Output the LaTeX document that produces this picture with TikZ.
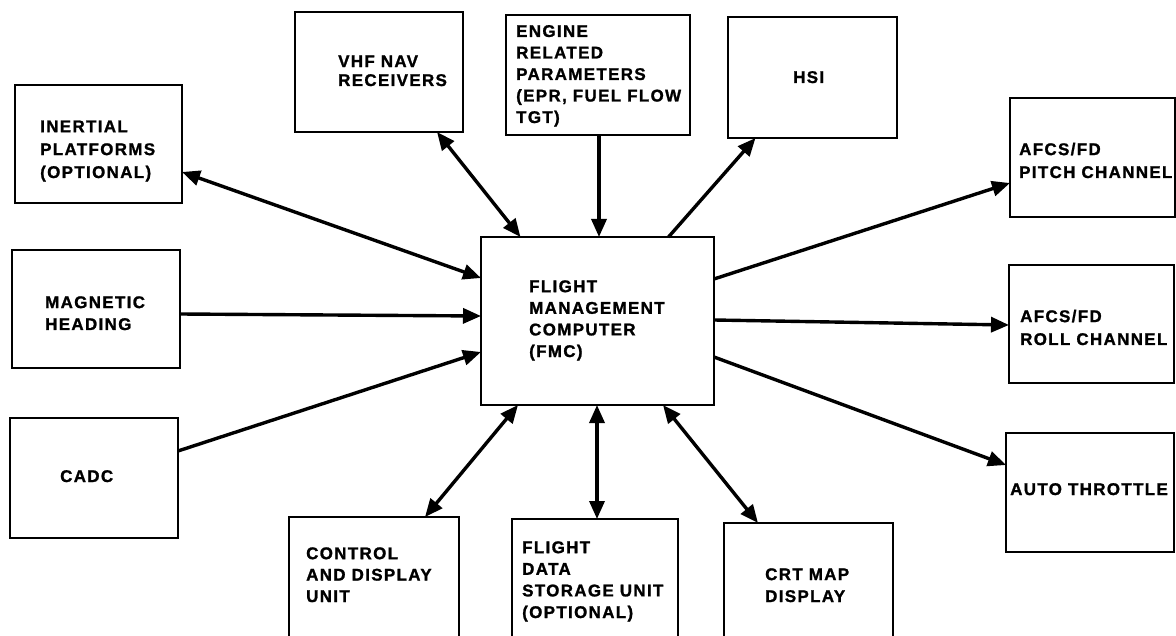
\documentclass[tikz,border=0pt]{standalone}
\usepackage{fontspec}
\setmainfont{Liberation Sans}[BoldFont={Liberation Sans Bold}, BoldFeatures={FakeBold=1.3}, LetterSpace=8]
\usetikzlibrary{arrows.meta}

\tikzset{
  unit/.style={draw, line width=2.5bp, inner sep=0pt, outer sep=0pt},
  caption/.style={anchor=base west, inner sep=0pt, align=left,
    font=\fontsize{17}{22}\selectfont\bfseries},
  link/.style={line width=3.4bp},
  headtip/.tip={Triangle[length=18bp,width=15bp]},
  tipto/.style={link, -headtip},
  tipboth/.style={link, headtip-headtip},
}

\begin{document}
\begin{tikzpicture}[x=1bp, y=-1bp]
\clip (0,0) rectangle (1176,636);
\fill[white] (0,0) rectangle (1176,636);

% boxes
\node[unit, minimum width=167bp, minimum height=118bp] (inertial) at (98.5,144) {};
\node[unit, minimum width=168bp, minimum height=118bp] (magnetic) at (96,309) {};
\node[unit, minimum width=168bp, minimum height=120bp] (cadc) at (94,478) {};
\node[unit, minimum width=168bp, minimum height=120bp] (vhf) at (379,72) {};
\node[unit, minimum width=184bp, minimum height=120bp] (engine) at (598,75) {};
\node[unit, minimum width=169bp, minimum height=121bp] (hsi) at (812.5,77.5) {};
\node[unit, minimum width=165bp, minimum height=119bp] (pitch) at (1092.5,157.5) {};
\node[unit, minimum width=165bp, minimum height=118bp] (roll) at (1091.5,324) {};
\node[unit, minimum width=168bp, minimum height=119bp] (auto) at (1090,492.5) {};
\node[unit, minimum width=233bp, minimum height=168bp] (fmc) at (597.5,321) {};
\node[unit, minimum width=170bp, minimum height=125bp] (cdu) at (374,579.5) {};
\node[unit, minimum width=166bp, minimum height=123bp] (fdsu) at (595,580.5) {};
\node[unit, minimum width=169bp, minimum height=119bp] (crt) at (808.5,582.5) {};

% box texts (each placed by the baseline of its last line)
\node[caption, font=\fontsize{17}{23}\selectfont\bfseries] (inertial-t) at (40,178) {INERTIAL\\PLATFORMS\\(OPTIONAL)};
\node[caption] (magnetic-t) at (45,330) {MAGNETIC\\HEADING};
\node[caption] (cadc-t) at (60,482) {CADC};
\node[caption, font=\fontsize{17}{19}\selectfont\bfseries] (vhf-t) at (338,86) {VHF NAV\\RECEIVERS};
\node[caption, font=\fontsize{17}{21.6}\selectfont\bfseries] (engine-t) at (516,123) {ENGINE\\RELATED\\PARAMETERS\\(EPR, FUEL FLOW\\TGT)};
\node[caption] (hsi-t) at (793,83) {HSI};
\node[caption, font=\fontsize{17}{23}\selectfont\bfseries] (pitch-t) at (1019,178) {AFCS/FD\\PITCH CHANNEL};
\node[caption, font=\fontsize{17}{23}\selectfont\bfseries] (roll-t) at (1020,345) {AFCS/FD\\ROLL CHANNEL};
\node[caption] (auto-t) at (1010,495) {AUTO THROTTLE};
\node[caption, font=\fontsize{17}{21.7}\selectfont\bfseries] (fmc-t) at (529,357) {FLIGHT\\MANAGEMENT\\COMPUTER\\(FMC)};
\node[caption, font=\fontsize{17}{21.5}\selectfont\bfseries] (cdu-t) at (306,602) {CONTROL\\AND DISPLAY\\UNIT};
\node[caption, font=\fontsize{17}{21.7}\selectfont\bfseries] (fdsu-t) at (522,618) {FLIGHT\\DATA\\STORAGE UNIT\\(OPTIONAL)};
\node[caption] (crt-t) at (765,602) {CRT MAP\\DISPLAY};

% connectors into the computer
\draw[tipboth] ([yshift=-28bp]inertial.east) -- ([yshift=43bp]fmc.west);
\draw[tipto] ([yshift=-5bp]magnetic.east) -- ([yshift=5bp]fmc.west);
\draw[tipto] ([yshift=27bp]cadc.east) -- ([yshift=-31bp]fmc.west);
\draw[tipboth] ([xshift=58bp]vhf.south) -- ([xshift=-77bp]fmc.north);
\draw[tipto] ([xshift=1bp]engine.south) -- ([xshift=1bp]engine.south |- fmc.north);

% connectors out of the computer
\draw[tipto] ([xshift=71bp]fmc.north) -- ([xshift=-57bp]hsi.south);
\draw[tipto] ([yshift=42bp]fmc.east) -- ([yshift=-25.5bp]pitch.west);
\draw[tipto] ([yshift=1bp]fmc.east) -- ([yshift=-1bp]roll.west);
\draw[tipto] ([yshift=-36bp]fmc.east) -- ([yshift=27.5bp]auto.west);
\draw[tipboth] ([xshift=-79.5bp]fmc.south) -- ([xshift=51bp]cdu.north);
\draw[tipboth] ([xshift=2bp]fdsu.north |- fmc.south) -- ([xshift=2bp]fdsu.north);
\draw[tipboth] ([xshift=65.5bp]fmc.south) -- ([xshift=-50.5bp]crt.north);
\end{tikzpicture}
\end{document}
